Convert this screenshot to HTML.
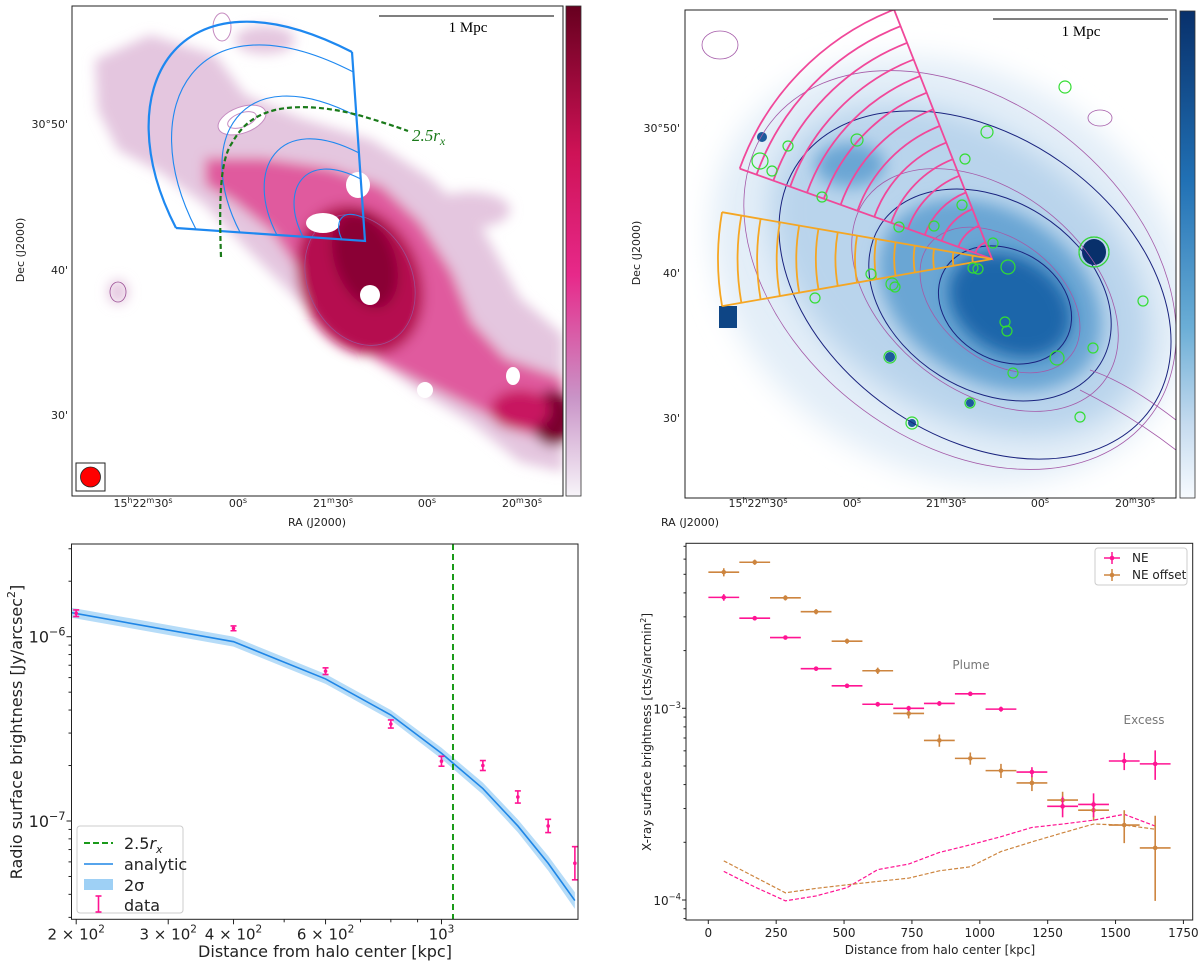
<!DOCTYPE html>
<html><head><meta charset="utf-8"><style>
body{margin:0;background:#fff}
#root{position:relative;width:1200px;height:968px;overflow:hidden;background:#fff}
svg text{font-family:"DejaVu Sans","Liberation Sans",sans-serif}
</style></head><body>
<div id="root">
<svg id="fig" width="1200" height="968" viewBox="0 0 1200 968" xmlns="http://www.w3.org/2000/svg">
<defs>
<filter id="b3" x="-20%" y="-20%" width="140%" height="140%"><feGaussianBlur stdDeviation="3"/></filter>
<filter id="b6" x="-20%" y="-20%" width="140%" height="140%"><feGaussianBlur stdDeviation="6"/></filter>
<filter id="b8" x="-30%" y="-30%" width="160%" height="160%"><feGaussianBlur stdDeviation="8"/></filter>
<filter id="b14" x="-30%" y="-30%" width="160%" height="160%"><feGaussianBlur stdDeviation="14"/></filter>
<linearGradient id="cbPink" x1="0" y1="0" x2="0" y2="1"><stop offset="0" stop-color="#67001f"/><stop offset="0.3" stop-color="#ce1256"/><stop offset="0.55" stop-color="#e7298a"/><stop offset="0.8" stop-color="#c994c7"/><stop offset="1" stop-color="#f7f4f9"/></linearGradient>
<linearGradient id="cbBlue" x1="0" y1="0" x2="0" y2="1"><stop offset="0" stop-color="#08306b"/><stop offset="0.35" stop-color="#2171b5"/><stop offset="0.65" stop-color="#6baed6"/><stop offset="0.85" stop-color="#c6dbef"/><stop offset="1" stop-color="#f7fbff"/></linearGradient>
<clipPath id="clipTL"><rect x="72" y="6" width="491" height="490"/></clipPath>
<clipPath id="clipTR"><rect x="685" y="10" width="491" height="488"/></clipPath>
<clipPath id="clipBL"><rect x="71.5" y="544" width="506.5" height="375.3"/></clipPath>
<clipPath id="clipBR"><rect x="686" y="543.3" width="506.7" height="376.7"/></clipPath>
</defs>

<!-- ============ TOP LEFT: radio map ============ -->
<g id="tl">
<g clip-path="url(#clipTL)">
 <g filter="url(#b6)">
  <path fill="#e4c6df" d="M95,60 L150,35 L215,55 L245,95 L300,118 L372,140 L430,178 L482,228 L520,298 L563,335 L563,472 L520,462 L470,422 L420,392 L380,362 L330,332 L290,292 L250,252 L205,205 L160,172 L118,150 L98,110 Z"/>
  <ellipse fill="#e4c6df" cx="265" cy="40" rx="30" ry="14"/>
  <ellipse fill="#e4c6df" cx="118" cy="292" rx="10" ry="12"/>
  <ellipse fill="#e4c6df" cx="470" cy="210" rx="40" ry="18"/>
  <path fill="#e05a9e" d="M205,158 L262,158 L330,168 L382,186 L420,222 L452,272 L472,322 L505,358 L563,378 L563,445 L520,432 L462,402 L420,382 L380,362 L332,322 L300,272 L272,232 L232,200 L205,185 Z"/>
  <ellipse fill="#b5104f" cx="360" cy="280" rx="60" ry="78" transform="rotate(-25 360 280)"/>
  <ellipse fill="#8a0035" cx="365" cy="260" rx="30" ry="50" transform="rotate(-20 365 260)"/>
  <ellipse fill="#7a002e" cx="553" cy="418" rx="22" ry="28"/>
  <ellipse fill="#c81860" cx="520" cy="410" rx="30" ry="20"/>
 </g>
 <g fill="none" stroke="#9b4f95" stroke-width="0.8">
  <ellipse cx="360" cy="280" rx="52" ry="68" transform="rotate(-25 360 280)"/>
  <ellipse cx="118" cy="292" rx="8" ry="10"/>
 </g>
 <ellipse fill="#fff" cx="358" cy="185" rx="12" ry="13"/>
 <ellipse fill="#fff" cx="323" cy="223" rx="17" ry="10"/>
 <ellipse fill="#fff" cx="370" cy="295" rx="10" ry="10"/>
 <ellipse fill="#fff" cx="425" cy="390" rx="8" ry="8"/>
 <ellipse fill="#fff" cx="513" cy="376" rx="7" ry="9"/>
 <g fill="#fff" stroke="#c58bc0" stroke-width="1"><ellipse cx="242" cy="120" rx="25" ry="13" transform="rotate(-20 242 120)"/><ellipse cx="242" cy="120" rx="15" ry="7" transform="rotate(-20 242 120)"/><ellipse cx="222" cy="27" rx="9" ry="14"/></g>
 <g id="tlSector" fill="none" stroke="#1e88f0"></g>
 <path d="M221,257 C219,200 220,160 232,143 C242,125 255,115 275,110 C300,104 335,108 365,117 C385,123 400,128 408,131" fill="none" stroke="#1a7a1a" stroke-width="2.2" stroke-dasharray="5,3"/>
</g>
<text x="412" y="141" font-style="italic" font-size="17" fill="#1a7a1a" style="font-family:'Liberation Serif',serif">2.5<tspan font-style="italic">r</tspan><tspan font-size="12" dy="4">x</tspan></text>
<line x1="379" y1="16" x2="554" y2="16" stroke="#333" stroke-width="1.3"/>
<text x="468" y="32" text-anchor="middle" font-size="15" style="font-family:'Liberation Serif',serif">1 Mpc</text>
<rect x="76" y="463" width="29" height="28" fill="#fff" stroke="#222" stroke-width="1"/>
<circle cx="90.5" cy="477" r="10" fill="#f00" stroke="#222" stroke-width="0.8"/>
<rect x="72" y="6" width="491" height="490" fill="none" stroke="#222" stroke-width="1"/>
<rect x="566" y="6" width="15" height="490" fill="url(#cbPink)" stroke="#333" stroke-width="0.8"/>
<g font-size="11" fill="#222">
 <text x="68" y="128" text-anchor="end">30°50'</text>
 <text x="68" y="274" text-anchor="end">40'</text>
 <text x="68" y="419" text-anchor="end">30'</text>
 <text x="143" y="507" text-anchor="middle">15<tspan font-size="8" dy="-4">h</tspan><tspan dy="4">22</tspan><tspan font-size="8" dy="-4">m</tspan><tspan dy="4">30</tspan><tspan font-size="8" dy="-4">s</tspan></text>
 <text x="238" y="507" text-anchor="middle">00<tspan font-size="8" dy="-4">s</tspan></text>
 <text x="333" y="507" text-anchor="middle">21<tspan font-size="8" dy="-4">m</tspan><tspan dy="4">30</tspan><tspan font-size="8" dy="-4">s</tspan></text>
 <text x="427" y="507" text-anchor="middle">00<tspan font-size="8" dy="-4">s</tspan></text>
 <text x="522" y="507" text-anchor="middle">20<tspan font-size="8" dy="-4">m</tspan><tspan dy="4">30</tspan><tspan font-size="8" dy="-4">s</tspan></text>
 <text x="317" y="526" text-anchor="middle">RA (J2000)</text>
 <text transform="translate(24 250) rotate(-90)" text-anchor="middle">Dec (J2000)</text>
</g>
</g>

<!-- ============ TOP RIGHT: X-ray map ============ -->
<g id="tr">
<g clip-path="url(#clipTR)">
 <ellipse fill="#e3eef8" cx="950" cy="270" rx="250" ry="200" transform="rotate(30 950 270)" filter="url(#b14)"/>
 <ellipse fill="#b9d4ec" cx="960" cy="270" rx="210" ry="140" transform="rotate(35 960 270)" filter="url(#b14)"/>
 <ellipse fill="#6aa6d4" cx="990" cy="295" rx="120" ry="85" transform="rotate(32 990 295)" filter="url(#b8)"/>
 <ellipse fill="#1f66aa" cx="1010" cy="305" rx="65" ry="48" transform="rotate(30 1010 305)" filter="url(#b8)"/>
 <ellipse fill="#6aa6d4" cx="850" cy="165" rx="35" ry="22" filter="url(#b8)"/>
 <ellipse fill="#08306b" cx="1094" cy="252" rx="12" ry="13"/>
 <rect fill="#0e4585" x="719" y="306" width="18" height="22"/>
 <circle fill="#1c5a9c" cx="890" cy="357" r="5"/><circle fill="#1c5a9c" cx="762" cy="137" r="5"/>
 <circle fill="#1c5a9c" cx="912" cy="423" r="4"/><circle fill="#1c5a9c" cx="970" cy="403" r="4"/>
 <g fill="none" stroke="#1a237e" stroke-width="1">
  <ellipse cx="975" cy="285" rx="215" ry="150" transform="rotate(35 975 285)"/>
  <ellipse cx="990" cy="295" rx="130" ry="95" transform="rotate(32 990 295)"/>
  <ellipse cx="1005" cy="305" rx="70" ry="55" transform="rotate(30 1005 305)"/>
  <circle cx="1094" cy="252" r="15"/>
 </g>
 <g fill="none" stroke="#a45aa8" stroke-width="0.8">
  <ellipse cx="960" cy="270" rx="240" ry="170" transform="rotate(38 960 270)"/>
  <ellipse cx="985" cy="290" rx="150" ry="100" transform="rotate(38 985 290)"/>
  <ellipse cx="1000" cy="300" rx="90" ry="60" transform="rotate(38 1000 300)"/>
  <path d="M1090,370 C1120,380 1150,400 1176,420"/><path d="M1080,390 C1120,410 1150,430 1176,450"/>
  <ellipse cx="720" cy="45" rx="18" ry="14"/><ellipse cx="1100" cy="118" rx="12" ry="8"/>
 </g>
 <g id="trSectors" fill="none"></g>
 <g id="trCircles" fill="none" stroke="#33dd33" stroke-width="1.2"></g>
</g>
<line x1="993" y1="19" x2="1168" y2="19" stroke="#333" stroke-width="1.3"/>
<text x="1081" y="36" text-anchor="middle" font-size="15" style="font-family:'Liberation Serif',serif">1 Mpc</text>
<rect x="685" y="10" width="491" height="488" fill="none" stroke="#222" stroke-width="1"/>
<rect x="1180" y="11" width="15" height="487" fill="url(#cbBlue)" stroke="#333" stroke-width="0.8"/>
<g font-size="11" fill="#222">
 <text x="680" y="132" text-anchor="end">30°50'</text>
 <text x="680" y="277" text-anchor="end">40'</text>
 <text x="680" y="422" text-anchor="end">30'</text>
 <text x="758" y="507" text-anchor="middle">15<tspan font-size="8" dy="-4">h</tspan><tspan dy="4">22</tspan><tspan font-size="8" dy="-4">m</tspan><tspan dy="4">30</tspan><tspan font-size="8" dy="-4">s</tspan></text>
 <text x="852" y="507" text-anchor="middle">00<tspan font-size="8" dy="-4">s</tspan></text>
 <text x="946" y="507" text-anchor="middle">21<tspan font-size="8" dy="-4">m</tspan><tspan dy="4">30</tspan><tspan font-size="8" dy="-4">s</tspan></text>
 <text x="1040" y="507" text-anchor="middle">00<tspan font-size="8" dy="-4">s</tspan></text>
 <text x="1135" y="507" text-anchor="middle">20<tspan font-size="8" dy="-4">m</tspan><tspan dy="4">30</tspan><tspan font-size="8" dy="-4">s</tspan></text>
 <text x="690" y="526" text-anchor="middle">RA (J2000)</text>
 <text transform="translate(640 253) rotate(-90)" text-anchor="middle">Dec (J2000)</text>
</g>
</g>

<g id="bl"></g>
<g id="br"></g>
</svg>
</div>
<script>
// ---------- radio profile data (bottom-left) ----------
const radioDist = [200, 400, 600, 800, 1000, 1200, 1400, 1600, 1800];
const radioSB = [1.34e-6, 1.11e-6, 6.5e-7, 3.36e-7, 2.11e-7, 2.0e-7, 1.35e-7, 9.4e-8, 5.9e-8];
const radioErrDex = [0.018, 0.013, 0.018, 0.022, 0.027, 0.027, 0.033, 0.036, 0.09];
const analyticDist = [190, 400, 600, 800, 1000, 1200, 1400, 1600, 1800];
const analyticSB = [1.37e-6, 9.4e-7, 5.9e-7, 3.76e-7, 2.33e-7, 1.50e-7, 9.4e-8, 5.9e-8, 3.7e-8];
const analyticBandDex = [0.027, 0.027, 0.027, 0.027, 0.03, 0.032, 0.035, 0.04, 0.045];
const rxLine = 1052;
const blMajorTicks = [200, 300, 400, 600, 1000];
const blMajorLabels = [["2 × 10","2"],["3 × 10","2"],["4 × 10","2"],["6 × 10","2"],["10","3"]];
const blMinorTicks = [500, 700, 800, 900];
const blYMajor = [1e-6, 1e-7];
const blYMajorLabels = [["10","−6"],["10","−7"]];
const blYMinor = [3e-8,4e-8,5e-8,6e-8,7e-8,8e-8,9e-8,2e-7,3e-7,4e-7,5e-7,6e-7,7e-7,8e-7,9e-7,2e-6,3e-6];

// ---------- x-ray profile data (bottom-right) ----------
const xrayDist = [57, 171, 284, 397, 511, 624, 738, 851, 965, 1078, 1192, 1305, 1419, 1532, 1646];
const xrayBinHalf = 56.7;
const neSB = [3.79e-3, 2.95e-3, 2.34e-3, 1.61e-3, 1.31e-3, 1.05e-3, 1.0e-3, 1.06e-3, 1.19e-3, 9.9e-4, 4.65e-4, 3.08e-4, 3.15e-4, 5.31e-4, 5.13e-4];
const neErr = [1.5e-4, 8e-5, 5e-5, 4e-5, 3e-5, 3e-5, 3e-5, 3e-5, 3e-5, 3e-5, 2.8e-5, 3.8e-5, 4.5e-5, 5.5e-5, 9e-5];
const offSB = [5.13e-3, 5.78e-3, 3.77e-3, 3.19e-3, 2.24e-3, 1.57e-3, 9.4e-4, 6.8e-4, 5.48e-4, 4.73e-4, 4.08e-4, 3.32e-4, 2.94e-4, 2.46e-4, 1.87e-4];
const offErr = [2.5e-4, 1.8e-4, 1.2e-4, 1.0e-4, 7e-5, 6e-5, 5.5e-5, 5e-5, 4e-5, 4e-5, 3.8e-5, 3.5e-5, 3.5e-5, 4.8e-5, 8.8e-5];
const neBkg = [1.41e-4, 1.17e-4, 9.9e-5, 1.05e-4, 1.16e-4, 1.44e-4, 1.54e-4, 1.77e-4, 1.94e-4, 2.14e-4, 2.39e-4, 2.49e-4, 2.61e-4, 2.80e-4, 2.43e-4];
const offBkg = [1.60e-4, 1.32e-4, 1.09e-4, 1.15e-4, 1.20e-4, 1.25e-4, 1.30e-4, 1.42e-4, 1.49e-4, 1.79e-4, 2.01e-4, 2.24e-4, 2.49e-4, 2.46e-4, 2.34e-4];
const brXTicks = [0, 250, 500, 750, 1000, 1250, 1500, 1750];
const brYMajor = [1e-3, 1e-4];
const brYMajorLabels = [["10","−3"],["10","−4"]];
const brYMinor = [8e-5,9e-5,2e-4,3e-4,4e-4,5e-4,6e-4,7e-4,8e-4,9e-4,2e-3,3e-3,4e-3,5e-3,6e-3,7e-3];

const NS = "http://www.w3.org/2000/svg";
function mk(tag, attrs, parent) {
  const e = document.createElementNS(NS, tag);
  for (const k in attrs) e.setAttribute(k, attrs[k]);
  if (parent) parent.appendChild(e);
  return e;
}
function supText(parent, x, y, base, sup, size, anchor) {
  const t = mk('text', {x: x, y: y, 'font-size': size, 'text-anchor': anchor, fill: '#222'}, parent);
  t.appendChild(document.createTextNode(base));
  const s = mk('tspan', {'font-size': size * 0.7, dy: -size * 0.45}, t);
  s.textContent = sup;
  return t;
}

// ---------- top-left sector ----------
(function(){
  const g = document.getElementById('tlSector');
  const ax = 365, ay = 241;
  const fr = [1, 0.894, 0.661, 0.466, 0.328, 0.122];
  fr.forEach((t, i) => {
    const p = mk('path', {d: `M${ax-189*t},${ay-13*t} C${ax-260*t},${ay-150*t} ${ax-190*t},${ay-280*t} ${ax-13*t},${ay-189*t}`, 'stroke-width': i === 0 ? 2.2 : 1.1}, g);
    
    
  });
  const e = mk('path', {d: `M${ax-189},${ay-13} L${ax},${ay} L${ax-13},${ay-189}`, 'stroke-width': 2.2}, g);
  
  
})();

// ---------- top-right sectors & circles ----------
(function(){
  const g = document.getElementById('trSectors');
  const ax = 992, ay = 259;
  function sector(a1, a2, R, n, color, name) {
    const sg = mk('g', {stroke: color, 'stroke-width': 1.8}, g);
    
    
    for (let i = 1; i <= n; i++) {
      const r = R * i / n;
      const x1 = ax + r*Math.cos(a1), y1 = ay + r*Math.sin(a1);
      const x2 = ax + r*Math.cos(a2), y2 = ay + r*Math.sin(a2);
      const p = mk('path', {d: `M${x1},${y1} A${r},${r} 0 0 1 ${x2},${y2}`}, sg);
      
      
    }
    const p = mk('path', {d: `M${ax+R*Math.cos(a1)},${ay+R*Math.sin(a1)} L${ax},${ay} L${ax+R*Math.cos(a2)},${ay+R*Math.sin(a2)}`}, sg);
    
    
  }
  sector(Math.atan2(-91,-254), Math.atan2(-247,-97), 268, 15, '#f0489a', 'ne-sector');
  sector(Math.atan2(47,-269), Math.atan2(-47,-271), 274, 14, '#f5a623', 'ne-offset-sector');
  const cg = document.getElementById('trCircles');
  const circ = [[1065,87,6],[987,132,6],[857,140,6],[788,146,5],[760,161,8],[772,171,5],[965,159,5],[822,197,5],[962,205,5],[899,227,5],[934,226,5],[993,243,5],[1008,267,7],[973,268,5],[978,269,5],[871,274,5],[892,284,6],[895,287,5],[815,298,5],[1143,301,5],[1094,252,15],[1005,322,5],[1007,331,5],[1093,348,5],[890,357,6],[1057,358,7],[1013,373,5],[970,403,5],[912,423,6],[1080,417,5]];
  circ.forEach(c => {
    const e = mk('circle', {cx: c[0], cy: c[1], r: c[2]}, cg);
    
    
  });
})();

// ---------- bottom-left chart ----------
(function(){
  const g = document.getElementById('bl');
  const X0 = 71.5, X1 = 578, Y0 = 544, Y1 = 919.3;
  const xs = v => 76.2 + (Math.log10(v) - Math.log10(200)) * 522.6;
  const ys = v => 636.7 + (-6 - Math.log10(v)) * 184.3;
  const pg = mk('g', {'clip-path': 'url(#clipBL)'}, g);
  let up = [], dn = [];
  analyticDist.forEach((d, i) => {
    up.push(xs(d) + ',' + ys(analyticSB[i] * Math.pow(10, analyticBandDex[i])));
    dn.unshift(xs(d) + ',' + ys(analyticSB[i] / Math.pow(10, analyticBandDex[i])));
  });
  const band = mk('polygon', {points: up.concat(dn).join(' '), fill: '#9ed0f5', 'fill-opacity': 0.75}, pg);
  
  
  const line = mk('polyline', {points: analyticDist.map((d, i) => xs(d) + ',' + ys(analyticSB[i])).join(' '), fill: 'none', stroke: '#1f86e6', 'stroke-width': 1.6}, pg);
  
  
  const vl = mk('line', {x1: xs(rxLine), x2: xs(rxLine), y1: Y0, y2: Y1, stroke: '#1a9a1a', 'stroke-width': 2, 'stroke-dasharray': '6,4'}, pg);
  
  
  radioDist.forEach((d, i) => {
    const x = xs(d), y = ys(radioSB[i]);
    const yt = ys(radioSB[i] * Math.pow(10, radioErrDex[i])), yb = ys(radioSB[i] / Math.pow(10, radioErrDex[i]));
    const pt = mk('g', {stroke: '#ff1493', 'stroke-width': 1.6}, pg);
    
    
    mk('line', {x1: x, x2: x, y1: yt, y2: yb}, pt);
    mk('line', {x1: x-3, x2: x+3, y1: yt, y2: yt}, pt);
    mk('line', {x1: x-3, x2: x+3, y1: yb, y2: yb}, pt);
    mk('circle', {cx: x, cy: y, r: 1.8, fill: '#ff1493', stroke: 'none'}, pt);
  });
  const fr = mk('rect', {x: X0, y: Y0, width: X1-X0, height: Y1-Y0, fill: 'none', stroke: '#222', 'stroke-width': 1}, g);
  
  
  const ax = mk('g', {stroke: '#222', 'stroke-width': 1}, g);
  
  
  blMajorTicks.forEach((v, i) => {
    mk('line', {x1: xs(v), x2: xs(v), y1: Y1, y2: Y1+5}, ax);
    const t = supText(g, xs(v), Y1+20, blMajorLabels[i][0], blMajorLabels[i][1], 15, 'middle');
    
    
  });
  blMinorTicks.forEach(v => mk('line', {x1: xs(v), x2: xs(v), y1: Y1, y2: Y1+3}, ax));
  blYMajor.forEach((v, i) => {
    mk('line', {x1: X0-5, x2: X0, y1: ys(v), y2: ys(v)}, ax);
    const t = supText(g, X0-6, ys(v)+6, blYMajorLabels[i][0], blYMajorLabels[i][1], 16, 'end');
    
    
  });
  blYMinor.forEach(v => { const y = ys(v); if (y > Y0 && y < Y1) mk('line', {x1: X0-3, x2: X0, y1: y, y2: y}, ax); });
  const xl = mk('text', {x: 325, y: 957, 'font-size': 16, 'text-anchor': 'middle', fill: '#222'}, g);
  xl.textContent = 'Distance from halo center [kpc]';
  
  
  const yl = mk('text', {transform: 'translate(22 732) rotate(-90)', 'font-size': 16, 'text-anchor': 'middle', fill: '#222'}, g);
  yl.textContent = 'Radio surface brightness [Jy/arcsec';
  const ys2 = mk('tspan', {'font-size': 11, dy: -7}, yl); ys2.textContent = '2';
  const ys3 = mk('tspan', {dy: 7}, yl); ys3.textContent = ']';
  
  
  const lg = mk('g', {}, g);
  
  
  mk('rect', {x: 77, y: 826, width: 106, height: 87, rx: 3, fill: '#fff', 'fill-opacity': 0.85, stroke: '#ccc'}, lg);
  mk('line', {x1: 84, x2: 113, y1: 843, y2: 843, stroke: '#1a9a1a', 'stroke-width': 2, 'stroke-dasharray': '6,3'}, lg);
  mk('line', {x1: 84, x2: 113, y1: 864, y2: 864, stroke: '#1f86e6', 'stroke-width': 1.6}, lg);
  mk('rect', {x: 84, y: 879, width: 29, height: 11, fill: '#9ed0f5'}, lg);
  mk('line', {x1: 98.5, x2: 98.5, y1: 896, y2: 912, stroke: '#ff1493', 'stroke-width': 1.6}, lg);
  mk('line', {x1: 95.5, x2: 101.5, y1: 896, y2: 896, stroke: '#ff1493', 'stroke-width': 1.6}, lg);
  mk('line', {x1: 95.5, x2: 101.5, y1: 912, y2: 912, stroke: '#ff1493', 'stroke-width': 1.6}, lg);
  const lt = [['2.5', 849], ['analytic', 870], ['2σ', 891], ['data', 911]];
  lt.forEach((a, i) => {
    const t = mk('text', {x: 124, y: a[1], 'font-size': 16, fill: '#222'}, lg);
    t.textContent = a[0];
    if (i === 0) { const r = mk('tspan', {'font-style': 'italic'}, t); r.textContent = 'r'; const s = mk('tspan', {'font-size': 11, dy: 4, 'font-style': 'italic'}, t); s.textContent = 'x'; }
    
    
  });
})();

// ---------- bottom-right chart ----------
(function(){
  const g = document.getElementById('br');
  const X0 = 686, X1 = 1192.7, Y0 = 543.3, Y1 = 920;
  const xs = v => 708.3 + v * 0.2715;
  const ys = v => 708.3 + (-3 - Math.log10(v)) * 191.7;
  const pg = mk('g', {'clip-path': 'url(#clipBR)'}, g);
  const l1 = mk('polyline', {points: xrayDist.map((d, i) => xs(d) + ',' + ys(neBkg[i])).join(' '), fill: 'none', stroke: '#ff1493', 'stroke-width': 1.2, 'stroke-dasharray': '4,2'}, pg);
  
  
  const l2 = mk('polyline', {points: xrayDist.map((d, i) => xs(d) + ',' + ys(offBkg[i])).join(' '), fill: 'none', stroke: '#cd853f', 'stroke-width': 1.2, 'stroke-dasharray': '4,2'}, pg);
  
  
  function series(vals, errs, color, name) {
    vals.forEach((v, i) => {
      const d = xrayDist[i];
      const pt = mk('g', {stroke: color, 'stroke-width': 1.6}, pg);
      
      
      mk('line', {x1: xs(d - xrayBinHalf), x2: xs(d + xrayBinHalf), y1: ys(v), y2: ys(v)}, pt);
      mk('line', {x1: xs(d), x2: xs(d), y1: ys(v + errs[i]), y2: ys(Math.max(v - errs[i], 1e-6))}, pt);
      mk('circle', {cx: xs(d), cy: ys(v), r: 2.3, fill: color, stroke: 'none'}, pt);
    });
  }
  series(offSB, offErr, '#cd853f', 'ne-offset-point');
  series(neSB, neErr, '#ff1493', 'ne-point');
  const fr = mk('rect', {x: X0, y: Y0, width: X1-X0, height: Y1-Y0, fill: 'none', stroke: '#222', 'stroke-width': 1}, g);
  
  
  const ax = mk('g', {stroke: '#222', 'stroke-width': 1}, g);
  
  
  brXTicks.forEach(v => {
    mk('line', {x1: xs(v), x2: xs(v), y1: Y1, y2: Y1+4}, ax);
    const t = mk('text', {x: xs(v), y: Y1+17, 'font-size': 12, 'text-anchor': 'middle', fill: '#222'}, g);
    t.textContent = String(v);
    
    
  });
  brYMajor.forEach((v, i) => {
    mk('line', {x1: X0-4, x2: X0, y1: ys(v), y2: ys(v)}, ax);
    const t = supText(g, X0-5, ys(v)+5, brYMajorLabels[i][0], brYMajorLabels[i][1], 12, 'end');
    
    
  });
  brYMinor.forEach(v => { const y = ys(v); if (y > Y0 && y < Y1) mk('line', {x1: X0-2.5, x2: X0, y1: y, y2: y}, ax); });
  const xl = mk('text', {x: 940, y: 954, 'font-size': 12, 'text-anchor': 'middle', fill: '#222'}, g);
  xl.textContent = 'Distance from halo center [kpc]';
  
  
  const yl = mk('text', {transform: 'translate(651 732) rotate(-90)', 'font-size': 12, 'text-anchor': 'middle', fill: '#222'}, g);
  yl.textContent = 'X-ray surface brightness [cts/s/arcmin';
  const s1 = mk('tspan', {'font-size': 8, dy: -5}, yl); s1.textContent = '2';
  const s2 = mk('tspan', {dy: 5}, yl); s2.textContent = ']';
  
  
  const a1 = mk('text', {x: 971, y: 669, 'font-size': 12, 'text-anchor': 'middle', fill: '#777'}, g);
  a1.textContent = 'Plume';
  
  
  const a2 = mk('text', {x: 1144, y: 724, 'font-size': 12, 'text-anchor': 'middle', fill: '#777'}, g);
  a2.textContent = 'Excess';
  
  
  const lg = mk('g', {}, g);
  
  
  mk('rect', {x: 1095, y: 548, width: 92, height: 37, rx: 3, fill: '#fff', stroke: '#ccc'}, lg);
  [['NE', '#ff1493', 558], ['NE offset', '#cd853f', 575]].forEach(e => {
    mk('line', {x1: 1104, x2: 1120, y1: e[2], y2: e[2], stroke: e[1], 'stroke-width': 1.5}, lg);
    mk('line', {x1: 1112, x2: 1112, y1: e[2]-6, y2: e[2]+6, stroke: e[1], 'stroke-width': 1.5}, lg);
    mk('circle', {cx: 1112, cy: e[2], r: 2.3, fill: e[1]}, lg);
    const t = mk('text', {x: 1132, y: e[2]+4, 'font-size': 12, fill: '#222'}, lg);
    t.textContent = e[0];
    
    
  });
})();
</script>
</body></html>
